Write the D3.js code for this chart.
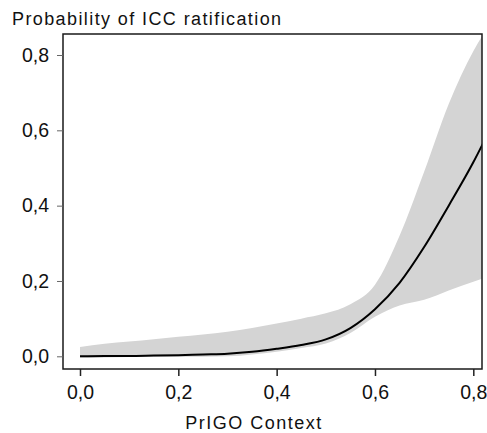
<!DOCTYPE html>
<html><head><meta charset="utf-8">
<script src="https://cdn.jsdelivr.net/npm/d3@7"></script>
<style>body{margin:0;background:#fff}svg{display:block}text{font-family:"Liberation Sans",Arial,sans-serif;fill:#111}</style>
</head><body><svg id="c" width="487" height="433"></svg>
<script>
const xs    = [0, 0.05, 0.1, 0.15, 0.2, 0.25, 0.3, 0.35, 0.4, 0.45, 0.5, 0.55, 0.6, 0.65, 0.7, 0.75, 0.8, 0.82];
const mean  = [0, 0.001, 0.001, 0.002, 0.003, 0.005, 0.007, 0.012, 0.02, 0.03, 0.045, 0.075, 0.125, 0.195, 0.29, 0.40, 0.515, 0.566];
const upper = [0.025, 0.033, 0.039, 0.045, 0.052, 0.058, 0.065, 0.075, 0.087, 0.100, 0.114, 0.138, 0.19, 0.32, 0.49, 0.67, 0.81, 0.855];
const lower = [-0.004, -0.003, -0.002, -0.002, -0.001, -0.001, 0.0, 0.005, 0.012, 0.022, 0.034, 0.062, 0.105, 0.135, 0.15, 0.175, 0.198, 0.207];
const xTicks = [0, 0.2, 0.4, 0.6, 0.8];
const yTicks = [0, 0.2, 0.4, 0.6, 0.8];
const fmt = d => d3.format(".1f")(d).replace(".", ",");

const svg = d3.select("#c");
const x = d3.scaleLinear().domain([0, 0.8]).range([80, 473.3]);
const y = d3.scaleLinear().domain([0, 0.8]).range([356.3, 55]);
const box = {l: 63, t: 34, r: 482, b: 369};

const data = xs.map((v, i) => ({x: v, m: mean[i], u: upper[i], lo: lower[i]}));
svg.append("clipPath").attr("id", "cl").append("rect")
  .attr("x", box.l).attr("y", box.t).attr("width", box.r - box.l).attr("height", box.b - box.t);
const g = svg.append("g").attr("clip-path", "url(#cl)");
g.append("path").datum(data)
  .attr("d", d3.area().x(d => x(d.x)).y0(d => y(d.lo)).y1(d => y(d.u)).curve(d3.curveMonotoneX))
  .attr("fill", "#d4d4d4");
g.append("path").datum(data)
  .attr("d", d3.line().x(d => x(d.x)).y(d => y(d.m)).curve(d3.curveMonotoneX))
  .attr("fill", "none").attr("stroke", "#000").attr("stroke-width", 2);

svg.append("rect").attr("x", box.l).attr("y", box.t).attr("width", box.r - box.l).attr("height", box.b - box.t)
  .attr("fill", "none").attr("stroke", "#1a1a1a").attr("stroke-width", 1.5);

const xa = svg.append("g").attr("transform", `translate(0,${box.b})`)
  .call(d3.axisBottom(x).tickValues(xTicks).tickFormat(fmt).tickSize(7).tickPadding(9));
xa.select(".domain").remove();
xa.selectAll("line").attr("stroke", "#222").attr("stroke-width", 1.5);
xa.selectAll("text").style("font-size", "19.5px").attr("fill", "#111");

const ya = svg.append("g").attr("transform", `translate(${box.l},0)`)
  .call(d3.axisLeft(y).tickValues(yTicks).tickFormat(fmt).tickSize(6).tickPadding(8));
ya.select(".domain").remove();
ya.selectAll("line").attr("stroke", "#666").attr("stroke-width", 1);
ya.selectAll("text").style("font-size", "19.5px").attr("fill", "#111");

svg.append("text").attr("x", 12).attr("y", 25).style("font-size", "18px").style("letter-spacing", "1.4px")
  .text("Probability of ICC ratification");
svg.append("text").attr("x", 254).attr("y", 429).attr("text-anchor", "middle").style("font-size", "18px")
  .style("letter-spacing", "1.5px").text("PrIGO Context");
</script></body></html>
